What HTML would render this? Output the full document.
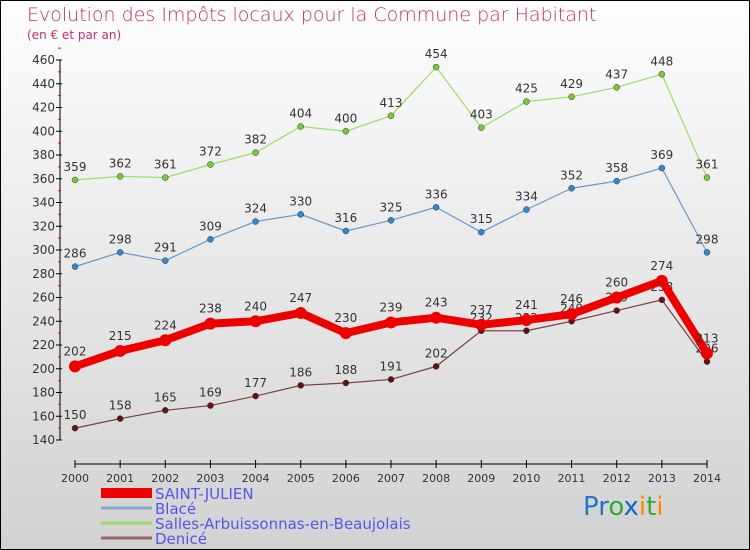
<!DOCTYPE html>
<html><head><meta charset="utf-8"><style>
body{margin:0}
#c{width:750px;height:550px;position:relative;overflow:hidden;box-sizing:border-box;border:1px solid #000;background:linear-gradient(#fefefe,#d2d2d2);font-family:"DejaVu Sans","Liberation Sans",sans-serif}
.t{position:absolute;color:#c0306a;margin:0}
</style></head><body>
<div id="c">
<div class="t" style="left:26px;top:3px;font-size:19px;font-weight:300">Evolution des Impôts locaux pour la Commune par Habitant</div>
<div class="t" style="left:26px;top:27px;font-size:12px">(en € et par an)</div>
<svg id="s" width="750" height="550" style="position:absolute;left:-1px;top:-1px"></svg>
</div>
<script>
const years=[2000,2001,2002,2003,2004,2005,2006,2007,2008,2009,2010,2011,2012,2013,2014];
const saint=[202,215,224,238,240,247,230,239,243,237,241,246,260,274,213];
const blace=[286,298,291,309,324,330,316,325,336,315,334,352,358,369,298];
const salles=[359,362,361,372,382,404,400,413,454,403,425,429,437,448,361];
const denice=[150,158,165,169,177,186,188,191,202,232,232,240,249,258,206];
const yTicks=[140,160,180,200,220,240,260,280,300,320,340,360,380,400,420,440,460];
const seriesNames=["SAINT-JULIEN","Blacé","Salles-Arbuissonnas-en-Beaujolais","Denicé"];
const NS="http://www.w3.org/2000/svg",s=document.getElementById('s');
const X=i=>75+i*(707-75)/(years.length-1);
const Y=v=>440-(v-140)*380/320;
function el(t,a,p){const e=document.createElementNS(NS,t);for(const k in a)e.setAttribute(k,a[k]);(p||s).appendChild(e);return e;}
let ax=el('line',{x1:60,y1:Y(460),x2:60,y2:Y(140),stroke:'#000'});


yTicks.forEach(v=>{
 el('line',{x1:56,x2:62,y1:Y(v),y2:Y(v),stroke:'#000'});
 el('line',{x1:58,x2:61,y1:Y(v+10),y2:Y(v+10),stroke:'#e00'});
 const t=el('text',{x:55,y:Y(v)+4,'text-anchor':'end','font-size':12,fill:'#333'});t.textContent=v;
 
 
});
let xa=el('line',{x1:75,y1:464,x2:707,y2:464,stroke:'#000'});


years.forEach((y,i)=>{
 el('line',{x1:X(i),x2:X(i),y1:460,y2:468,stroke:'#000'});
 const t=el('text',{x:X(i),y:482,'text-anchor':'middle','font-size':11,fill:'#333'});t.textContent=y;
 
 
});
function series(d,color,w,r,dot,name,dy){
 const g=el('g',{});
 
 
 el('polyline',{points:d.map((v,i)=>X(i)+','+Y(v)).join(' '),fill:'none',stroke:color,'stroke-width':w,'stroke-linejoin':'round'},g);
 d.forEach((v,i)=>{
  const c=el('circle',{cx:X(i),cy:Y(v),r:r,fill:dot,stroke:'#333','stroke-width':w>3?0:0.5},g);
  
  
  const t=el('text',{x:X(i),y:Y(v)+dy,'text-anchor':'middle','font-size':12,fill:'#333'},g);t.textContent=v;
  
  
 });
}
series(salles,'#99dd66',1.2,3,'#77cc33','series-salles',-9);
series(blace,'#6699cc',1.2,3,'#3388cc','series-blace',-9);
series(denice,'#804040',1.2,3,'#661111','series-denice',-9);
series(saint,'#ee0000',8,6,'#ee0000','series-saint-julien',-11);
const lc=['#ee0000','#88aacc','#99dd66','#996666'],lw=[10,3,3,3];
seriesNames.forEach((n,i)=>{
 const y=493+i*15;
 const g=el('g',{});
 
 
 el('line',{x1:101,x2:152,y1:y,y2:y,stroke:lc[i],'stroke-width':lw[i]},g);
 const t=el('text',{x:155,y:y+6,'font-size':15,fill:'#5555ee'},g);t.textContent=n;
});
const lg=el('text',{x:583,y:515,'font-size':26,'font-family':'DejaVu Sans, sans-serif'});


[['Pr','#2277cc'],['o','#33aa33'],['x','#1166cc'],['i','#ff8800'],['t','#33aa33'],['i','#ff8800']].forEach(([c,f])=>{el('tspan',{fill:f},lg).textContent=c;});
</script>
</body></html>
